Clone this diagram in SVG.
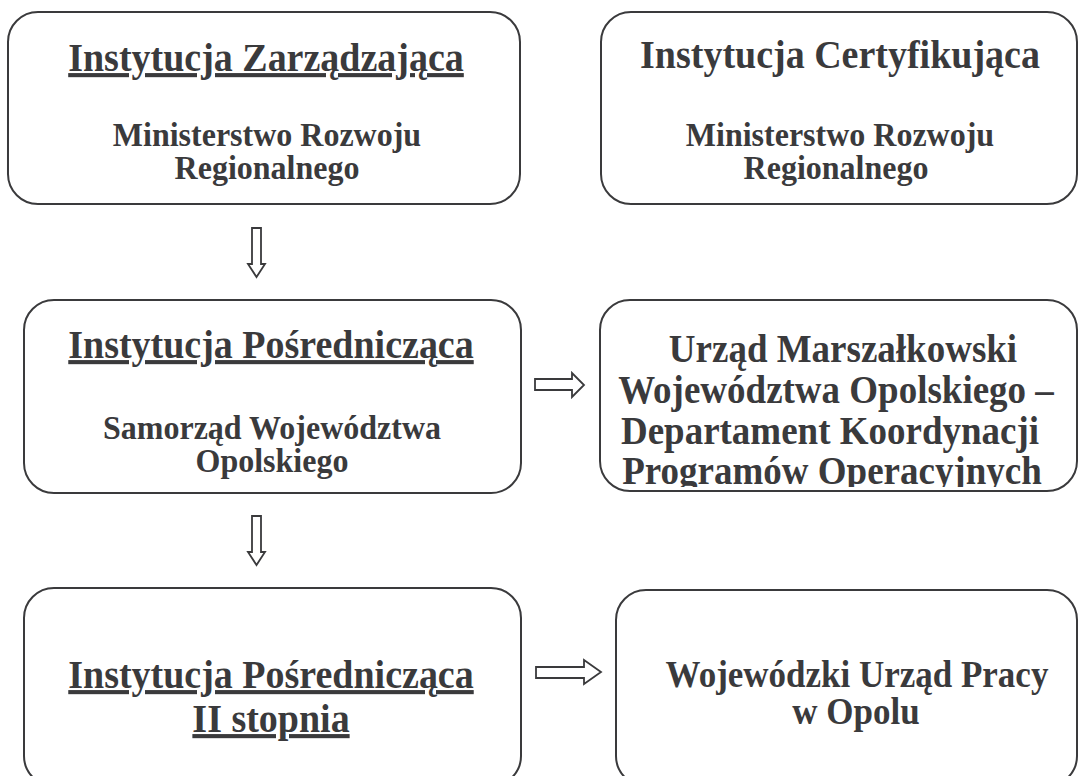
<svg xmlns="http://www.w3.org/2000/svg" width="1080" height="776" viewBox="0 0 1080 776">
<style>
.box{fill:#fff;stroke:#3a3a3c;stroke-width:2}
.arr{fill:#fff;stroke:#3a3a3c;stroke-width:1.8;stroke-linejoin:miter}
text{font-family:"Liberation Serif","Times New Roman",serif;font-weight:bold;fill:#3a3a3c;text-anchor:middle}
.h{font-size:38px}
.u{text-decoration:underline}
.b{font-size:32px}
.c{font-size:37px}
.d{font-size:35px}
</style>
<defs>
<clipPath id="clip4"><rect x="600" y="300" width="478" height="187"/></clipPath>
</defs>
<rect width="1080" height="776" fill="#fff"/>
<g id="connectors">
<path class="arr" d="M252,228 H261 V264 H265 L256.5,277 L248,264 H252 Z"/>
<path class="arr" d="M252,516 H261 V552 H265 L256.5,565 L248,552 H252 Z"/>
<path class="arr" d="M535,379 H572 V373 L584,385 L572,397 V390 H535 Z"/>
<path class="arr" d="M536,667 H584 V660 L601,672 L584,684 V678 H536 Z"/>
</g>
<g id="n1">
<rect class="box" x="8" y="12" width="512" height="192" rx="30"/>
<text class="h u" transform="translate(266,71) scale(1,1.08)">Instytucja Zarządzająca</text>
<text class="b" transform="translate(267,146) scale(1,1.08)">Ministerstwo Rozwoju</text>
<text class="b" transform="translate(267,179) scale(1,1.08)">Regionalnego</text>
</g>
<g id="n2">
<rect class="box" x="601" y="12" width="476" height="192" rx="30"/>
<text class="h" transform="translate(840,68) scale(1,1.08)">Instytucja Certyfikująca</text>
<text class="b" transform="translate(840,146) scale(1,1.08)">Ministerstwo Rozwoju</text>
<text class="b" transform="translate(836,179) scale(1,1.08)">Regionalnego</text>
</g>
<g id="n3">
<rect class="box" x="24" y="300" width="497" height="193" rx="30"/>
<text class="h u" transform="translate(271,358) scale(1,1.08)">Instytucja Pośrednicząca</text>
<text class="b" transform="translate(272,439) scale(1,1.08)">Samorząd Województwa</text>
<text class="b" transform="translate(272,472) scale(1,1.08)">Opolskiego</text>
</g>
<g id="n4">
<rect class="box" x="600" y="300" width="477" height="191" rx="30"/>
<g clip-path="url(#clip4)">
<text class="c" transform="translate(843,362) scale(1,1.08)">Urząd Marszałkowski</text>
<text class="c" transform="translate(836,403) scale(1,1.08)">Województwa Opolskiego –</text>
<text class="c" transform="translate(830,444) scale(1,1.08)">Departament Koordynacji</text>
<text class="c" transform="translate(832,484) scale(1,1.08)">Programów Operacyjnych</text>
</g>
</g>
<g id="n5">
<rect class="box" x="24" y="588" width="497" height="198" rx="30"/>
<text class="h u" transform="translate(271,688) scale(1,1.08)">Instytucja Pośrednicząca</text>
<text class="h u" transform="translate(271,732) scale(1,1.08)">II stopnia</text>
</g>
<g id="n6">
<rect class="box" x="616" y="590" width="461" height="196" rx="30"/>
<text class="d" transform="translate(857,687) scale(1,1.08)">Wojewódzki Urząd Pracy</text>
<text class="d" transform="translate(856,724) scale(1,1.08)">w Opolu</text>
</g>
</svg>
